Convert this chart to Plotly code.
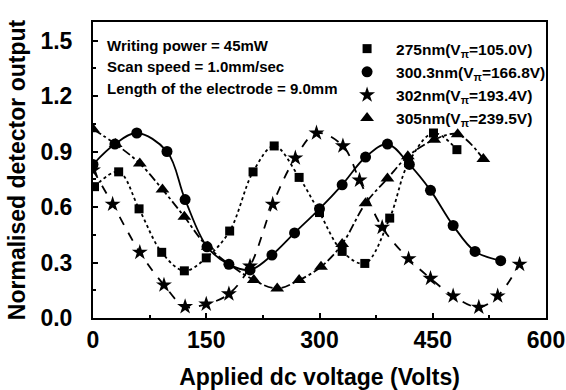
import plotly.graph_objects as go

# ---- data ----
sq_x = [2, 34, 61, 91, 121, 150, 181, 212, 240, 273, 300, 330, 360, 393, 418, 451, 482]
sq_y = [0.71, 0.79, 0.59, 0.355, 0.255, 0.325, 0.47, 0.79, 0.93, 0.76, 0.57, 0.36, 0.295, 0.54, 0.84, 1.00, 0.91]

ci_x = [0, 29, 58, 98, 122, 151, 180, 208, 237, 267, 300, 330, 361, 390, 419, 447, 477, 506, 540]
ci_y = [0.83, 0.94, 1.00, 0.90, 0.64, 0.385, 0.29, 0.26, 0.34, 0.46, 0.59, 0.72, 0.87, 0.94, 0.83, 0.69, 0.50, 0.36, 0.31]

st_x = [0, 26, 62, 94, 122, 150, 180, 208, 238, 268, 296, 331, 353, 383, 418, 447, 477, 511, 536, 565]
st_y = [0.80, 0.615, 0.355, 0.178, 0.061, 0.075, 0.13, 0.28, 0.615, 0.865, 1.00, 0.93, 0.745, 0.49, 0.32, 0.214, 0.119, 0.058, 0.119, 0.29]

tr_x = [0, 30, 62, 92, 121, 152, 213, 244, 273, 302, 330, 361, 390, 417, 452, 483, 517]
tr_y = [1.02, 0.94, 0.835, 0.695, 0.547, 0.385, 0.205, 0.16, 0.205, 0.277, 0.40, 0.62, 0.754, 0.874, 0.964, 0.993, 0.86]

names = ["275nm(V<sub>π</sub>=105.0V)", "300.3nm(V<sub>π</sub>=166.8V)",
         "302nm(V<sub>π</sub>=193.4V)", "305nm(V<sub>π</sub>=239.5V)"]
notes = ["Writing power = 45mW", "Scan speed = 1.0mm/sec", "Length of the electrode = 9.0mm"]

x_ticks = [0, 150, 300, 450, 600]
y_ticks = [0.0, 0.3, 0.6, 0.9, 1.2, 1.5]

FONT = "Liberation Sans, Arial, sans-serif"

series = [
    (sq_x, sq_y, "square", "dot", 9),
    (ci_x, ci_y, "circle", "solid", 11),
    (st_x, st_y, "star", "dash", 12),
    (tr_x, tr_y, "triangle-up", "dashdot", 12),
]

fig = go.Figure()
for (xs, ys, sym, dash, ms) in series:
    fig.add_trace(go.Scatter(x=xs, y=ys, mode="lines", showlegend=False,
                             line=dict(color="black", width=1.8, dash=dash, shape="spline", smoothing=1.0),
                             hoverinfo="skip"))
for (xs, ys, sym, dash, ms), nm in zip(series, names):
    fig.add_trace(go.Scatter(x=xs, y=ys, mode="markers", name=nm,
                             marker=dict(symbol=sym, size=ms, color="black")))

note_y = [46, 67, 88]
for t, py in zip(notes, note_y):
    fig.add_annotation(x=0.027, y=(318 - py) / 296, xref="paper", yref="paper",
                       text=t, showarrow=False, xanchor="left", yanchor="middle",
                       font=dict(family=FONT, size=15, color="black", weight="bold"))

axis_common = dict(showline=True, linewidth=2, linecolor="black", mirror=True,
                   ticks="inside", ticklen=5, tickwidth=1.5, tickcolor="black",
                   showgrid=False, zeroline=False, automargin=False,
                   tickfont=dict(family=FONT, size=23, color="black", weight="bold"))

fig.update_layout(
    width=566, height=390,
    margin=dict(l=93, r=20, t=22, b=72),
    plot_bgcolor="white", paper_bgcolor="white",
    font=dict(family=FONT, color="black"),
    xaxis=dict(range=[0, 600], tickvals=x_ticks,
               minor=dict(dtick=75, ticks="inside", ticklen=3, tickwidth=1.5, tickcolor="black"),
               title=dict(text="Applied dc voltage (Volts)", standoff=18,
                          font=dict(family=FONT, size=23, color="black", weight="bold")),
               **axis_common),
    yaxis=dict(range=[0, 1.6], tickvals=y_ticks, tickformat=".1f", ticklabelstandoff=14,
               minor=dict(dtick=0.15, ticks="inside", ticklen=3, tickwidth=1.5, tickcolor="black"),
               title=dict(text="Normalised detector output", standoff=8,
                          font=dict(family=FONT, size=23, color="black", weight="bold")),
               **axis_common),
    legend=dict(x=0.541, y=0.966, xanchor="left", yanchor="top",
                bgcolor="rgba(0,0,0,0)", borderwidth=0,
                font=dict(family=FONT, size=15.5, color="black", weight="bold"),
                itemwidth=48, tracegroupgap=0),
    showlegend=True,
)

fig.write_html("out.html")
